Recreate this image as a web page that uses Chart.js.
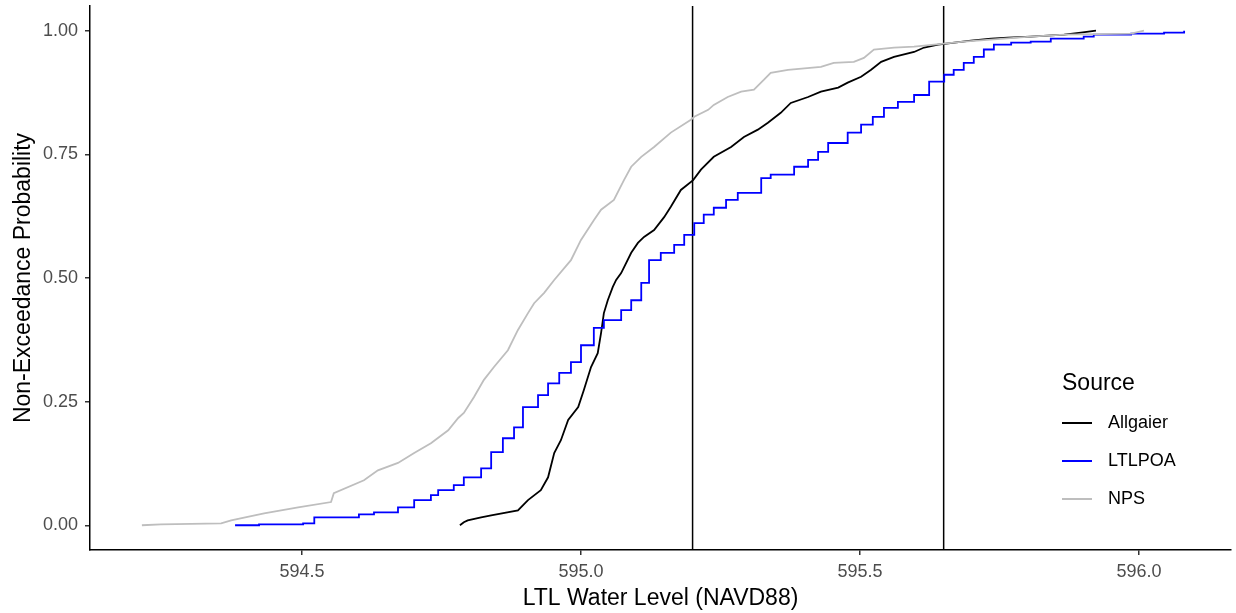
<!DOCTYPE html>
<html>
<head>
<meta charset="utf-8">
<script src="https://cdn.jsdelivr.net/npm/chart.js@4.4.1/dist/chart.umd.min.js"></script>
<style>
  body { margin: 0; background: #fff; font-family: "Liberation Sans", Arial, sans-serif; }
  #wrap { position: relative; width: 1236px; height: 613px; }
  .legend-title { position: absolute; left: 1062px; top: 369px; font-size: 23px; color: #000; }
  .legend-item { position: absolute; left: 1062px; height: 20px; font-size: 18px; color: #000; }
  .legend-item span.key { position: absolute; left: 0; top: 9px; width: 30px; height: 0; border-top: 2px solid #000; }
  .legend-item span.lab { position: absolute; left: 46px; top: -1px; white-space: nowrap; }
</style>
</head>
<body>
<div id="wrap">
  <canvas id="myChart" width="1236" height="613"></canvas>
  <div class="legend-title">Source</div>
  <div class="legend-item" style="top:413px"><span class="key" style="border-color:#000000"></span><span class="lab">Allgaier</span></div>
  <div class="legend-item" style="top:451px"><span class="key" style="border-color:#0000ff"></span><span class="lab">LTLPOA</span></div>
  <div class="legend-item" style="top:489px"><span class="key" style="border-color:#bebebe"></span><span class="lab">NPS</span></div>
</div>
<script>
// points
var allgaierLevel = [594.783, 594.790, 594.797, 594.821, 594.839, 594.887, 594.905, 594.928, 594.941, 594.952,
  594.964, 594.977, 594.995, 595.005, 595.018, 595.030, 595.036, 595.041, 595.048, 595.057,
  595.063, 595.072, 595.090, 595.102, 595.113, 595.131, 595.149, 595.161, 595.179, 595.201,
  595.215, 595.238, 595.269, 595.292, 595.317, 595.335, 595.358, 595.376, 595.407, 595.430,
  595.461, 595.478, 595.502, 595.520, 595.538, 595.561, 595.597, 595.615, 595.640, 595.699,
  595.735, 595.765, 595.806, 595.866, 595.896, 595.923];
var allgaierProb = [0, 0.006, 0.010, 0.016, 0.020, 0.030, 0.051, 0.071, 0.097, 0.146,
  0.172, 0.213, 0.239, 0.273, 0.320, 0.348, 0.389, 0.429, 0.455, 0.482,
  0.496, 0.510, 0.551, 0.571, 0.583, 0.597, 0.623, 0.644, 0.678, 0.698,
  0.719, 0.745, 0.765, 0.785, 0.800, 0.814, 0.834, 0.854, 0.866, 0.877,
  0.885, 0.895, 0.907, 0.921, 0.937, 0.947, 0.957, 0.966, 0.972, 0.980,
  0.984, 0.986, 0.988, 0.992, 0.996, 1.000];

var ltlpoaLevel = [594.380, 594.423, 594.502, 594.522, 594.602, 594.629, 594.672, 594.701, 594.731, 594.744,
  594.772, 594.790, 594.821, 594.839, 594.860, 594.880, 594.896, 594.923, 594.941, 594.961,
  594.982, 595.000, 595.023, 595.041, 595.072, 595.090, 595.108, 595.122, 595.143, 595.167,
  595.185, 595.203, 595.220, 595.238, 595.260, 595.281, 595.323, 595.340, 595.382, 595.407,
  595.425, 595.443, 595.478, 595.502, 595.523, 595.543, 595.568, 595.597, 595.624, 595.651,
  595.668, 595.686, 595.704, 595.722, 595.740, 595.771, 595.806, 595.842, 595.901, 595.919,
  595.986, 596.045, 596.081];
var ltlpoaProb = [0, 0.002, 0.004, 0.016, 0.022, 0.026, 0.036, 0.051, 0.061, 0.071,
  0.081, 0.097, 0.115, 0.148, 0.176, 0.198, 0.239, 0.263, 0.287, 0.308,
  0.330, 0.364, 0.399, 0.415, 0.435, 0.455, 0.490, 0.536, 0.551, 0.567,
  0.587, 0.611, 0.628, 0.642, 0.658, 0.672, 0.702, 0.709, 0.725, 0.739,
  0.755, 0.773, 0.794, 0.810, 0.826, 0.844, 0.856, 0.870, 0.897, 0.911,
  0.921, 0.935, 0.947, 0.962, 0.972, 0.976, 0.978, 0.984, 0.988, 0.992,
  0.994, 0.996, 1.000];

var npsLevel = [594.213, 594.247, 594.355, 594.373, 594.432, 594.493, 594.552, 594.557, 594.611, 594.636,
  594.672, 594.701, 594.731, 594.762, 594.780, 594.790, 594.808, 594.826, 594.844, 594.869,
  594.887, 594.905, 594.916, 594.934, 594.952, 594.982, 595.000, 595.023, 595.036, 595.059,
  595.077, 595.090, 595.108, 595.131, 595.161, 595.197, 595.203, 595.228, 595.238, 595.263,
  595.287, 595.310, 595.328, 595.340, 595.371, 595.430, 595.453, 595.489, 595.507, 595.525,
  595.561, 595.597, 595.633, 595.686, 595.806, 595.866, 595.986, 596.009];
var npsProb = [0, 0.002, 0.004, 0.010, 0.024, 0.036, 0.047, 0.065, 0.091, 0.111,
  0.126, 0.146, 0.166, 0.192, 0.217, 0.227, 0.259, 0.294, 0.320, 0.354,
  0.395, 0.429, 0.449, 0.470, 0.496, 0.536, 0.577, 0.617, 0.638, 0.658,
  0.698, 0.725, 0.745, 0.765, 0.794, 0.820, 0.826, 0.840, 0.850, 0.866,
  0.877, 0.881, 0.901, 0.915, 0.921, 0.927, 0.935, 0.937, 0.945, 0.962,
  0.966, 0.968, 0.972, 0.978, 0.988, 0.992, 0.994, 1.000];

var refLevels = [595.2, 595.65];
var xTicks = [594.5, 595.0, 595.5, 596.0];
var yTicks = [0, 0.25, 0.5, 0.75, 1];

function toPoints(xs, ys) {
  var pts = [];
  for (var i = 0; i < xs.length; i++) {
    pts.push({ x: xs[i], y: ys[i] });
  }
  return pts;
}

function ecdfSet(label, xs, ys, color, stepped) {
  return {
    label: label,
    data: toPoints(xs, ys),
    borderColor: color,
    borderWidth: 1.8,
    showLine: true,
    stepped: stepped,
    pointRadius: 0,
    fill: false
  };
}

var datasets = [
  ecdfSet("NPS", npsLevel, npsProb, "#bebebe", false),
  ecdfSet("LTLPOA", ltlpoaLevel, ltlpoaProb, "#0000ff", true),
  ecdfSet("Allgaier", allgaierLevel, allgaierProb, "#000000", false)
];

var yMin = -0.05, yMax = 1.05;
for (var i = 0; i < refLevels.length; i++) {
  datasets.push({
    label: "ref" + i,
    data: [{ x: refLevels[i], y: yMin }, { x: refLevels[i], y: yMax }],
    borderColor: "#000000",
    borderWidth: 1.5,
    showLine: true,
    pointRadius: 0
  });
}

var tickFont = { family: "'Liberation Sans', Arial, sans-serif", size: 18 };
var titleFont = { family: "'Liberation Sans', Arial, sans-serif", size: 23 };

function noPad(scale) {
  scale.paddingTop = 0;
  scale.paddingBottom = 0;
  scale.paddingLeft = 0;
  scale.paddingRight = 0;
}

new Chart(document.getElementById("myChart"), {
  type: "scatter",
  data: { datasets: datasets },
  options: {
    responsive: false,
    devicePixelRatio: 1,
    animation: false,
    layout: { padding: { left: 0, right: 5, top: 6, bottom: 0 } },
    plugins: { legend: { display: false }, tooltip: { enabled: false } },
    scales: {
      x: {
        type: "linear",
        min: 594.12,
        max: 596.165,
        afterBuildTicks: function (scale) {
          scale.ticks = xTicks.map(function (v) { return { value: v }; });
        },
        afterFit: function (scale) { scale.height = 63; noPad(scale); },
        grid: { display: true, drawOnChartArea: false, drawTicks: true, tickLength: 5, color: "#333333", lineWidth: 1.5 },
        border: { display: true, color: "#000000", width: 1.5 },
        ticks: {
          color: "#4d4d4d",
          font: tickFont,
          padding: 6,
          maxRotation: 0,
          callback: function (v) { return Number(v).toFixed(1); }
        },
        title: { display: true, text: "LTL Water Level (NAVD88)", color: "#000000", font: titleFont, padding: { top: 0, bottom: 1 } }
      },
      y: {
        type: "linear",
        min: yMin,
        max: yMax,
        afterBuildTicks: function (scale) {
          scale.ticks = yTicks.map(function (v) { return { value: v }; });
        },
        afterFit: function (scale) { scale.width = 90; noPad(scale); },
        grid: { display: true, drawOnChartArea: false, drawTicks: true, tickLength: 5, color: "#333333", lineWidth: 1.5 },
        border: { display: true, color: "#000000", width: 1.5 },
        ticks: {
          color: "#4d4d4d",
          font: tickFont,
          padding: 7,
          callback: function (v) { return Number(v).toFixed(2); }
        },
        title: { display: true, text: "Non-Exceedance Probability", color: "#000000", font: titleFont, padding: { top: 10, bottom: 0 } }
      }
    }
  }
});
</script>
</body>
</html>
